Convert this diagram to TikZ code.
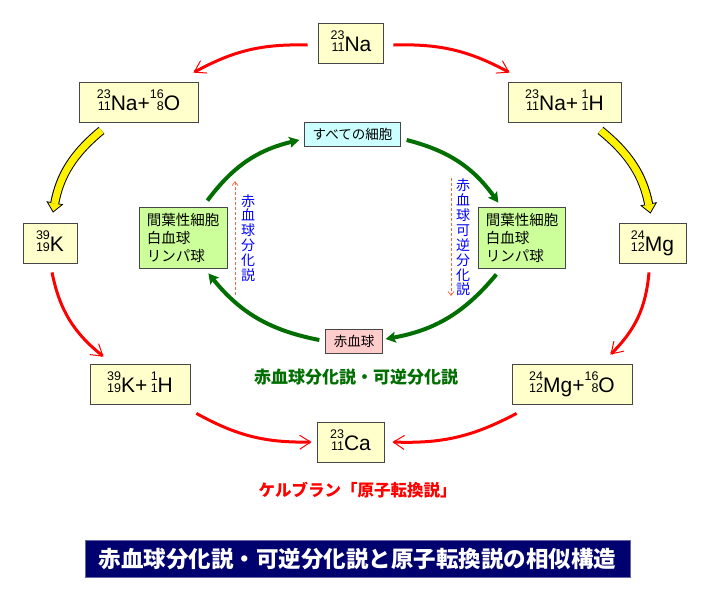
\documentclass[tikz,border=0pt]{standalone}
\usepackage{fontspec}
\setmainfont{Liberation Sans}
\newfontfamily\jp{Noto Sans CJK JP}
\definecolor{nucyellow}{RGB}{255, 255, 204}
\definecolor{cellgreen}{RGB}{204, 255, 153}
\definecolor{cellcyan}{RGB}{204, 255, 255}
\definecolor{cellpink}{RGB}{255, 204, 204}
\definecolor{boxgray}{RGB}{70, 70, 70}
\definecolor{darkgreen}{RGB}{0, 110, 0}
\definecolor{navyband}{RGB}{0, 0, 110}
\definecolor{dashred}{RGB}{255, 100, 60}
\usetikzlibrary{arrows.meta}

% isotope: mass number over atomic number, right aligned
\newcommand{\nuc}[3]{{\fontsize{12.5}{11.5}\selectfont\begin{tabular}[b]{@{}r@{}}#1\\#2\end{tabular}}#3}

\begin{document}
\begin{tikzpicture}[x=1pt, y=-1pt,
  nucbox/.style={draw=boxgray, fill=nucyellow, line width=0.8pt, minimum height=40pt, inner xsep=4pt, font=\fontsize{21}{23}\selectfont},
  cellbox/.style={draw=boxgray, fill=cellgreen, line width=0.8pt, minimum height=61pt, align=left, inner xsep=7pt, font=\jp\fontsize{14.5}{18}\selectfont},
  tagbox/.style={draw=boxgray, line width=0.8pt, minimum height=24pt, inner xsep=8pt, inner ysep=2pt, font=\jp\fontsize{13.5}{15}\selectfont},
  redarrow/.style={draw=red, line width=3pt, -{Straight Barb[length=11pt, width=14pt, line width=1pt]}},
  greenarrow/.style={draw=darkgreen, line width=4pt, -{Stealth[length=10pt, width=11pt, inset=2pt]}},
  fatarrow/.style={draw=black, line width=9pt, -{Triangle[length=10pt, width=17pt, line width=0.8pt, fill=yellow]},
    postaction={draw=yellow, line width=7pt, -, shorten >=9pt}},
  dasharrow/.style={draw=dashred, line width=0.7pt, dash pattern=on 3pt off 2pt, -{Straight Barb[length=4pt, width=6pt]}},
  vtext/.style={text=blue, align=center, inner sep=0pt, font=\jp\fontsize{14}{14.9}\selectfont}]
  \useasboundingbox (0,0) rectangle (709,595);

  % Outer cycle: nuclei
  \node[nucbox, minimum width=65pt] (na) at (351,43) {\nuc{23}{11}{Na}};
  \node[nucbox, minimum width=119pt] (naO) at (138.5,102) {\nuc{23}{11}{Na}+\nuc{16}{8}{O}};
  \node[nucbox, minimum width=113pt] (naH) at (564.5,102) {\nuc{23}{11}{Na}+\,\nuc{1}{1}{H}};
  \node[nucbox, minimum width=54pt] (k) at (50,243) {\nuc{39}{19}{K}};
  \node[nucbox, minimum width=67pt] (mg) at (652.5,243) {\nuc{24}{12}{Mg}};
  \node[nucbox, minimum width=100pt] (kH) at (140,384) {\nuc{39}{19}{K}+\,\nuc{1}{1}{H}};
  \node[nucbox, minimum width=120pt] (mgO) at (572,384) {\nuc{24}{12}{Mg}+\nuc{16}{8}{O}};
  \node[nucbox, minimum width=67pt] (ca) at (350.5,442) {\nuc{23}{11}{Ca}};

  % Red transmutation arrows
  \draw[redarrow] ([shift={(-10.5,2)}]na.west) to[bend right=15] ([shift={(-5,-9)}]naO.north east);
  \draw[redarrow] ([shift={(9.5,2)}]na.east) to[bend left=15] ([shift={(2,-9)}]naH.north west);
  \draw[redarrow] ([shift={(2,9)}]k.south) to[bend right=20] ([shift={(14,-7)}]kH.north west);
  \draw[redarrow] ([shift={(-3.5,9)}]mg.south) to[bend left=20] ([shift={(-22,-9)}]mgO.north east);
  \draw[redarrow] ([shift={(6,9)}]kH.south east) to[bend right=15] ([shift={(-5,0)}]ca.west);
  \draw[redarrow] ([shift={(5,9)}]mgO.south west) to[bend left=15] ([shift={(8,0)}]ca.east);

  % Yellow arrows
  \draw[fatarrow] ([shift={(-37,8)}]naO.south) to[bend right=20] ([shift={(3,-10)}]k.north);
  \draw[fatarrow] ([shift={(36,8)}]naH.south) to[bend left=20] ([shift={(-2,-9)}]mg.north);

  % Inner cycle: cells
  \node[tagbox, fill=cellcyan] (all) at (352.5,134) {すべての細胞};
  \node[tagbox, fill=cellpink] (rbc) at (354,341) {赤血球};
  \node[cellbox, minimum width=88pt] (lcell) at (183,237.5) {間葉性細胞\\白血球\\リンパ球};
  \node[cellbox, minimum width=86pt] (rcell) at (522,237.5) {間葉性細胞\\白血球\\リンパ球};

  % Green arrows
  \draw[greenarrow] ([shift={(-20,-6)}]lcell.north east) to[bend left=20] ([shift={(-5,6)}]all.west);
  \draw[greenarrow] ([shift={(6,6)}]all.east) to[bend left=20] ([shift={(20,-4)}]rcell.north west);
  \draw[greenarrow] ([shift={(18,6)}]rcell.south west) to[bend left=20] ([shift={(3,-2)}]rbc.east);
  \draw[greenarrow] ([shift={(-6,-1)}]rbc.west) to[bend left=20] ([shift={(-19,5)}]lcell.south east);

  % Theory labels
  \coordinate (lfrom) at (235,295);
  \coordinate (lto) at (235,181);
  \draw[dasharrow] (lfrom) -- (lto);
  \node[vtext] (ltheory) at (248,238) {赤\\血\\球\\分\\化\\説};
  \coordinate (rfrom) at (451,178);
  \coordinate (rto) at (451,296);
  \draw[dasharrow] (rfrom) -- (rto);
  \node[vtext] (rtheory) at (463,237.5) {赤\\血\\球\\可\\逆\\分\\化\\説};

  \node[font=\jp\bfseries\fontsize{17}{20}\selectfont, text=darkgreen] (greenlbl) at (356,377) {赤血球分化説・可逆分化説};
  \node[font=\jp\bfseries\fontsize{16.5}{20}\selectfont, text=red] (redlbl) at (357.5,490) {ケルブラン「原子転換説」};

  % Title band
  \node[fill=navyband, draw=navyband!60!white, line width=0.8pt, minimum width=545pt, minimum height=37pt, text=white, font=\jp\bfseries\fontsize{22.5}{26}\selectfont] (title) at (357.5,558.5) {赤血球分化説・可逆分化説と原子転換説の相似構造};
\end{tikzpicture}
\end{document}
